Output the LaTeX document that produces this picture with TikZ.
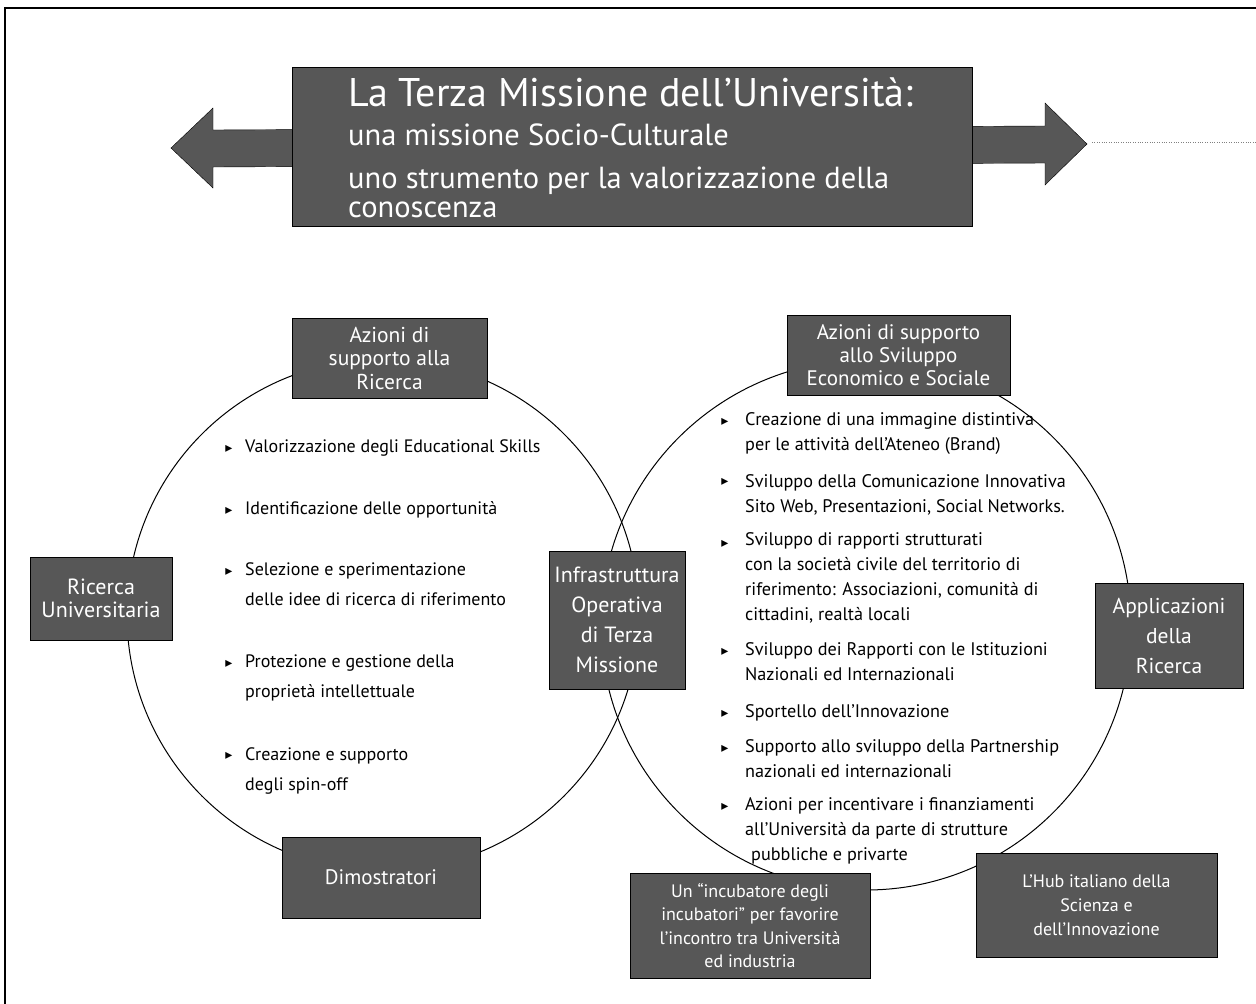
\documentclass[tikz,border=0pt]{standalone}
\usepackage{fontspec}
\setmainfont{PT Sans}
\newfontfamily\symfont{DejaVu Sans}
\definecolor{boxgray}{gray}{0.34}

\tikzset{
  graybox/.style={draw=black, fill=boxgray, text=white, align=center, inner sep=0pt, font=\fontsize{21.5}{23.5}\selectfont},
  smallbox/.style={graybox, font=\fontsize{18}{23.5}\selectfont},
  titletext/.style={anchor=base west, inner sep=0pt, text=white},
  item/.style={anchor=base west, align=left, inner sep=0pt, font=\fontsize{18}{30}\selectfont},
  ritem/.style={item, font=\fontsize{18.2}{25}\selectfont},
  bullet/.style={anchor=base, inner sep=0pt, font=\symfont\fontsize{14}{14}\selectfont},
}

\begin{document}
\begin{tikzpicture}[x=1pt, y=-1pt]
\useasboundingbox (0,0) rectangle (1256,1004);
% page frame
\draw[line width=1.5pt] (5,1004) -- (5,8) -- (1256,8);
\draw[dotted, gray] (1092,142) -- (1256,142);

% double arrow and title
\filldraw[fill=boxgray, draw=black] (171,148) -- (213,108) -- (213,130) -- (1045,126) -- (1045,103) -- (1087,144) -- (1045,185) -- (1045,163) -- (213,167) -- (213,188) -- cycle;
\node [graybox, minimum width=680pt, minimum height=159pt] (title) at (632,147) {};
\node [titletext, font=\fontsize{40}{40}\selectfont] (t1) at (348,106) {La Terza Missione dell’Università:};
\node [titletext, font=\fontsize{30.5}{30}\selectfont] (t2) at (348,145) {una missione Socio-Culturale};
\node [titletext, font=\fontsize{30.5}{30}\selectfont] (t3) at (348,188) {uno strumento per la valorizzazione della};
\node [titletext, font=\fontsize{30.5}{30}\selectfont] (t4) at (348,217) {conoscenza};

% the two circles
\draw[line width=1pt] (383,615) circle [radius=256pt];
\draw[line width=1pt] (866,625) circle [radius=265pt];

% boxes on the circles
\node [graybox, minimum width=195pt, minimum height=80pt] (azric) at (389.5,358) {Azioni di\\supporto alla\\Ricerca};
\node [graybox, minimum width=142pt, minimum height=83pt, font=\fontsize{22}{22.5}\selectfont] (ricuni) at (101,598.5) {Ricerca\\Universitaria};
\node [graybox, minimum width=136pt, minimum height=138pt, font=\fontsize{22}{30}\selectfont] (infra) at (617,620) {Infrastruttura\\Operativa\\di Terza\\Missione};
\node [graybox, minimum width=198pt, minimum height=81pt, font=\fontsize{21}{23}\selectfont] (dimo) at (381,877.5) {Dimostratori};
\node [graybox, minimum width=223pt, minimum height=80pt, font=\fontsize{21}{23}\selectfont] (azsvil) at (898.5,355) {Azioni di supporto\\allo Sviluppo\\Economico e Sociale};
\node [graybox, minimum width=148pt, minimum height=105pt, font=\fontsize{21.5}{30}\selectfont] (applic) at (1169,635.5) {Applicazioni\\della\\Ricerca};
\node [smallbox, minimum width=240pt, minimum height=105pt] (incub) at (750,925.5) {Un “incubatore degli\\incubatori” per favorire\\l’incontro tra Università\\ed industria};
\node [smallbox, minimum width=241pt, minimum height=104pt, font=\fontsize{18}{24}\selectfont] (hub) at (1096.5,905) {L’Hub italiano della\\Scienza e\\dell’Innovazione};

% left list
\node [bullet] (lb1) at (229,452) {▸};
\node [item] (li1) at (245,452) {Valorizzazione degli Educational Skills};
\node [bullet] (lb2) at (229,514) {▸};
\node [item] (li2) at (245,514) {Identificazione delle opportunità};
\node [bullet] (lb3) at (229,575) {▸};
\node [item] (li3) at (245,605) {Selezione e sperimentazione\\delle idee di ricerca di riferimento};
\node [bullet] (lb4) at (229,667) {▸};
\node [item] (li4) at (245,697) {Protezione e gestione della\\proprietà intellettuale};
\node [bullet] (lb5) at (229,759) {▸};
\node [item] (li5) at (245,790) {Creazione e supporto\\degli spin-off};

% right list
\node [bullet] (rb1) at (725,425) {▸};
\node [ritem] (ri1) at (745,450) {Creazione di una immagine distintiva\\per le attività dell’Ateneo (Brand)};
\node [bullet] (rb2) at (725,485) {▸};
\node [ritem] (ri2) at (745,512) {Sviluppo della Comunicazione Innovativa\\Sito Web, Presentazioni, Social Networks.};
\node [bullet] (rb3) at (725,547) {▸};
\node [ritem] (ri3) at (745,620) {Sviluppo di rapporti strutturati\\con la società civile del territorio di\\riferimento: Associazioni, comunità di\\cittadini, realtà locali};
\node [bullet] (rb4) at (725,655) {▸};
\node [ritem] (ri4) at (745,680) {Sviluppo dei Rapporti con le Istituzioni\\Nazionali ed Internazionali};
\node [bullet] (rb5) at (725,717) {▸};
\node [ritem] (ri5) at (745,717) {Sportello dell’Innovazione};
\node [bullet] (rb6) at (725,752) {▸};
\node [ritem] (ri6) at (745,777) {Supporto allo sviluppo della Partnership\\nazionali ed internazionali};
\node [bullet] (rb7) at (725,810) {▸};
\node [ritem] (ri7) at (745,860) {Azioni per incentivare i finanziamenti\\all’Università da parte di strutture\\\hspace*{6pt}pubbliche e privarte};
\end{tikzpicture}
\end{document}
